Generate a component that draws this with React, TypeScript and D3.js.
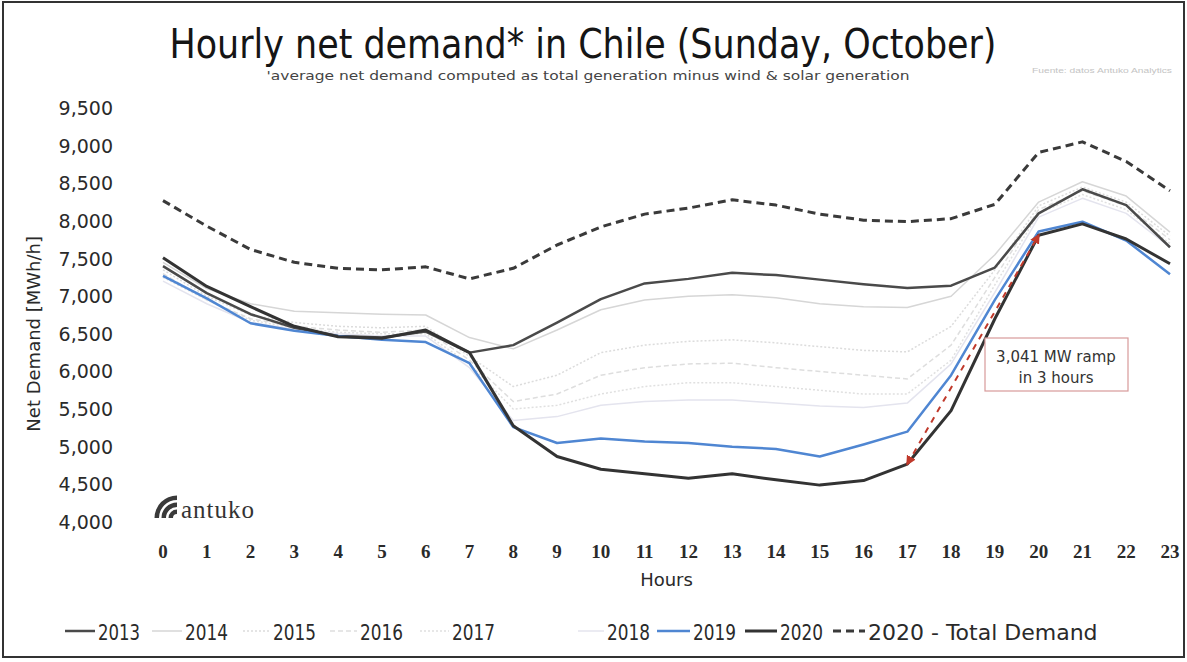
import React from 'react';
import * as d3 from 'd3';

// hours of the day
const hours = [0, 1, 2, 3, 4, 5, 6, 7, 8, 9, 10, 11, 12, 13, 14, 15, 16, 17, 18, 19, 20, 21, 22, 23];

// net demand per year (MWh/h)
const y2013 = [7400, 7040, 6760, 6580, 6470, 6450, 6530, 6250, 6350, 6650, 6960, 7170, 7230, 7310, 7280, 7220, 7160, 7110, 7140, 7380, 8100, 8420, 8210, 7650];
const y2014 = [7450, 7100, 6900, 6800, 6780, 6760, 6750, 6450, 6300, 6550, 6820, 6950, 7000, 7020, 6980, 6900, 6860, 6850, 7000, 7550, 8250, 8520, 8330, 7850];
const y2015 = [7350, 7000, 6750, 6650, 6600, 6580, 6600, 6200, 5800, 5950, 6250, 6350, 6400, 6420, 6380, 6330, 6280, 6260, 6600, 7350, 8200, 8450, 8250, 7800];
const y2016 = [7300, 6950, 6700, 6600, 6550, 6520, 6550, 6150, 5600, 5700, 5950, 6050, 6100, 6110, 6050, 6000, 5950, 5900, 6350, 7250, 8150, 8400, 8200, 7750];
const y2017 = [7250, 6950, 6680, 6580, 6520, 6500, 6500, 6100, 5500, 5550, 5700, 5800, 5850, 5850, 5800, 5750, 5700, 5700, 6150, 7150, 8100, 8350, 8150, 7700];
const y2018 = [7200, 6900, 6650, 6560, 6500, 6470, 6470, 6050, 5350, 5400, 5550, 5600, 5620, 5620, 5580, 5540, 5520, 5580, 6100, 7050, 8050, 8300, 8100, 7650];
const y2019 = [7270, 6970, 6640, 6540, 6470, 6420, 6390, 6110, 5260, 5050, 5110, 5070, 5050, 5000, 4970, 4870, 5030, 5200, 5950, 6950, 7860, 7990, 7740, 7290];
const y2020 = [7510, 7130, 6860, 6600, 6460, 6440, 6550, 6250, 5280, 4870, 4700, 4640, 4580, 4640, 4560, 4490, 4550, 4770, 5480, 6700, 7810, 7960, 7760, 7430];
const total2020 = [8270, 7930, 7620, 7450, 7370, 7350, 7390, 7230, 7370, 7680, 7920, 8090, 8170, 8280, 8210, 8090, 8010, 7990, 8030, 8220, 8910, 9050, 8790, 8400];

const yTicks = [4000, 4500, 5000, 5500, 6000, 6500, 7000, 7500, 8000, 8500, 9000, 9500];

const seriesNames = ['2013', '2014', '2015', '2016', '2017', '2018', '2019', '2020', '2020 - Total Demand'];
const seriesValues = [y2013, y2014, y2015, y2016, y2017, y2018, y2019, y2020, total2020];

// ramp annotation: from hour 17 to hour 20 of 2020
const rampFrom = 17;
const rampTo = 20;

// styles, same order as seriesNames
const styles = [
  { color: '#4a4a4a', width: 2.5, dash: '' },
  { color: '#d6d6d6', width: 1.5, dash: '' },
  { color: '#dcdcdc', width: 1.5, dash: '2,2' },
  { color: '#dedede', width: 1.5, dash: '5,3' },
  { color: '#e0e0e0', width: 1.5, dash: '2,2' },
  { color: '#e4e4ee', width: 1.5, dash: '' },
  { color: '#4f86d2', width: 2.5, dash: '' },
  { color: '#333333', width: 3, dash: '' },
  { color: '#3a3a3a', width: 3, dash: '8,5' },
];
// legend layout: line start, text start, text width (0 = natural)
const legendPos = [
  [65, 98, 42], [152, 185, 43], [243, 273, 43], [330, 360, 43], [420, 452, 43], [578, 607, 43],
  [657, 693, 43], [745, 780, 43], [833, 868, 0],
];

const W = 1187;
const H = 662;

const App: React.FC = () => {
  const x = d3.scaleLinear().domain([0, 23]).range([163, 1170]);
  const y = d3.scaleLinear().domain([4000, 9500]).range([522, 108]);

  const line = d3.line<number>()
    .x((_, i) => x(hours[i]))
    .y(d => y(d));

  const drawOrder = [1, 2, 3, 4, 5, 0, 6, 7, 8];
  const sans = "'DejaVu Sans', Verdana, sans-serif";
  const narrow = "'Liberation Sans Narrow', 'Liberation Sans', Arial, sans-serif";

  const rx1 = x(rampFrom), ry1 = y(y2020[rampFrom]);
  const rx2 = x(rampTo), ry2 = y(y2020[rampTo]);

  const arc = d3.arc();

  return (
    <div style={{ position: 'absolute', left: 0, top: 0 }}>
      <svg width={W} height={H} style={{ display: 'block', background: '#fff' }}>
        <defs>
          <marker id="arrow" viewBox="0 0 10 10" refX="8" refY="5" markerWidth="5" markerHeight="5" orient="auto-start-reverse">
            <path d="M0,0 L10,5 L0,10 z" fill="#c0392b" />
          </marker>
        </defs>
        <rect x={3} y={2} width={W - 6} height={H - 7} fill="#fff" stroke="#333" strokeWidth={2} />

        {/* title */}
        <text x={583} y={58} textAnchor="middle" fontFamily={sans} fontSize={40} fill="#151515"
          textLength={827} lengthAdjust="spacingAndGlyphs">
          Hourly net demand* in Chile (Sunday, October)
        </text>
        <text x={588} y={80} textAnchor="middle" fontFamily={sans} fontSize={13} fill="#444"
          textLength={643} lengthAdjust="spacingAndGlyphs">
          'average net demand computed as total generation minus wind &amp; solar generation
        </text>
        <text x={1032} y={73} fontFamily={narrow} fontSize={7} fill="#c4c4c4"
          textLength={140} lengthAdjust="spacingAndGlyphs">
          Fuente: datos Antuko Analytics
        </text>

        {/* y axis */}
        {yTicks.map(t => (
          <text key={t} x={113} y={y(t) + 7} textAnchor="end" fontFamily={sans} fontSize={19} fill="#2a2a2a">
            {d3.format(',')(t)}
          </text>
        ))}
        <text transform={`translate(40,${y(6500)}) rotate(-90)`} textAnchor="middle" fontFamily={sans}
          fontSize={18} fill="#2a2a2a">
          Net Demand [MWh/h]
        </text>

        {/* x axis */}
        {hours.map(h => (
          <text key={h} x={x(h)} y={558} textAnchor="middle" fontFamily="'Liberation Serif', serif"
            fontSize={19} fontWeight="bold" fill="#2a2a2a">
            {h}
          </text>
        ))}
        <text x={x(11.5)} y={586} textAnchor="middle" fontFamily={sans} fontSize={18} fill="#2a2a2a">
          Hours
        </text>

        {/* logo */}
        <g transform="translate(177,518)" fill="#3a3a3a">
          {[0, 1, 2].map(k => (
            <path key={k}
              d={arc({ innerRadius: 4 + k * 7, outerRadius: 8.5 + k * 7, startAngle: -Math.PI / 2, endAngle: 0 }) || ''} />
          ))}
        </g>
        <text x={181} y={518} fontFamily="'Liberation Serif', serif" fontSize={25} fill="#333" letterSpacing={1}>
          antuko
        </text>

        {/* series */}
        {drawOrder.map(i => (
          <path key={seriesNames[i]} d={line(seriesValues[i]) || ''} fill="none" stroke={styles[i].color}
            strokeWidth={styles[i].width} strokeDasharray={styles[i].dash || undefined}
            strokeLinejoin="round" />
        ))}

        {/* ramp annotation */}
        <line x1={rx1} y1={ry1} x2={rx2} y2={ry2} stroke="#c0392b" strokeWidth={2}
          strokeDasharray="6,6" markerStart="url(#arrow)" markerEnd="url(#arrow)" />
        <rect x={985} y={338} width={143} height={53} fill="#fff" stroke="#d79a9a" strokeWidth={1.2} />
        <text x={1056} y={362} textAnchor="middle" fontFamily={sans} fontSize={15} fill="#333">
          {d3.format(',')(y2020[rampTo] - y2020[rampFrom] + 1)} MW ramp
        </text>
        <text x={1056} y={383} textAnchor="middle" fontFamily={sans} fontSize={15} fill="#333">
          in {rampTo - rampFrom} hours
        </text>

        {/* legend */}
        {seriesNames.map((n, i) => (
          <g key={n}>
            <line x1={legendPos[i][0]} x2={legendPos[i][1] - 3} y1={631} y2={631} stroke={styles[i].color}
              strokeWidth={styles[i].width} strokeDasharray={styles[i].dash || undefined} />
            <text x={legendPos[i][1]} y={640} fontFamily={sans} fontSize={legendPos[i][2] ? 21 : 22} fill="#2a2a2a"
              textLength={legendPos[i][2] || undefined} lengthAdjust="spacingAndGlyphs">
              {n}
            </text>
          </g>
        ))}
      </svg>
    </div>
  );
};

export default App;
